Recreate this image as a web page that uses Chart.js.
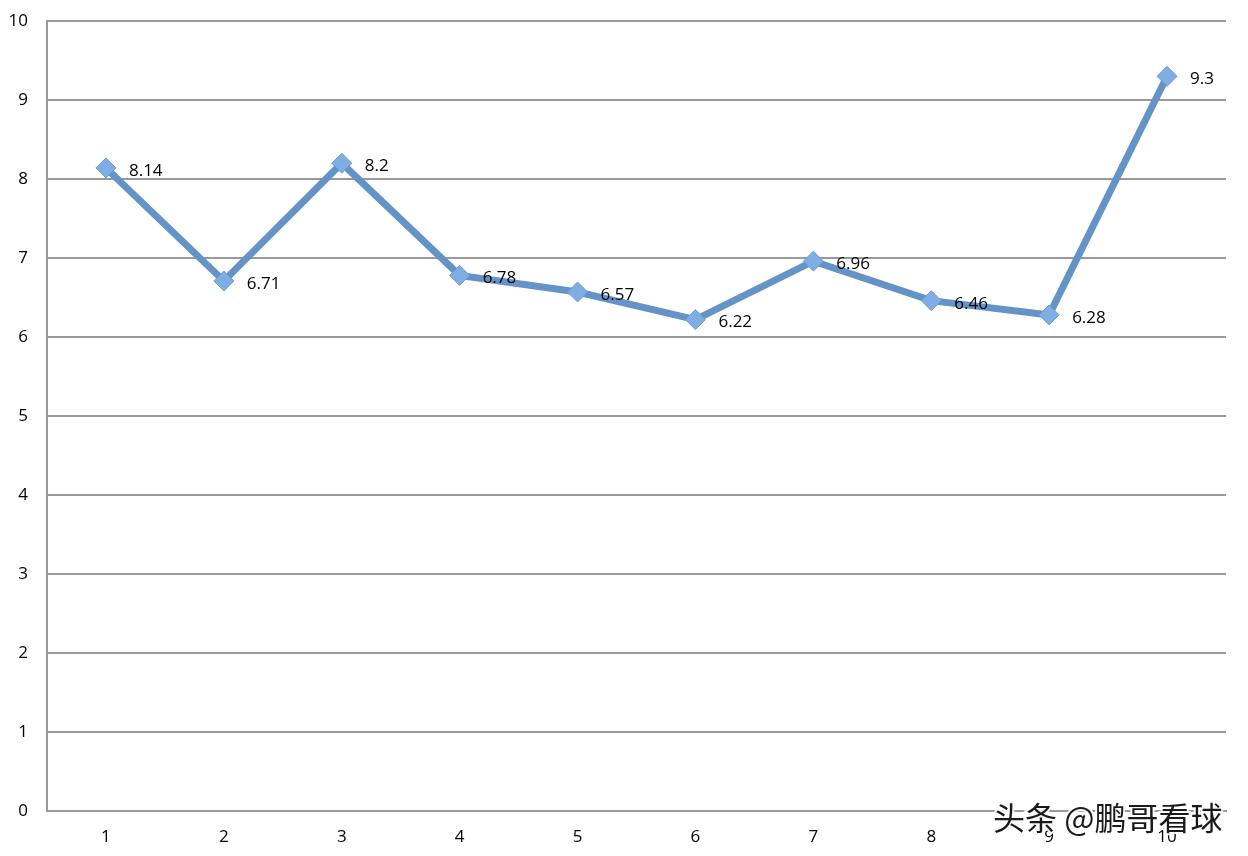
<!DOCTYPE html>
<html>
<head>
<meta charset="utf-8">
<script src="https://cdn.jsdelivr.net/npm/chart.js@4"></script>
<style>
  body { margin: 0; background: #fff; }
  #wrap { width: 1248px; height: 856px; }
</style>
</head>
<body>
<div id="wrap"><canvas id="lineChart" width="1248" height="856"></canvas></div>
<script>
const labels = ['1', '2', '3', '4', '5', '6', '7', '8', '9', '10'];
const values = [8.14, 6.71, 8.2, 6.78, 6.57, 6.22, 6.96, 6.46, 6.28, 9.3];
const watermark = '头条 @鹏哥看球';

// draws the value next to each point
const valueLabels = {
    id: 'valueLabels',
    afterDatasetsDraw(chart) {
        const ctx = chart.ctx;
        const meta = chart.getDatasetMeta(0);
        ctx.save();
        ctx.font = '17px "Open Sans", sans-serif';
        ctx.fillStyle = '#000';
        ctx.textBaseline = 'middle';
        ctx.textAlign = 'left';
        meta.data.forEach((pt, i) => {
            ctx.fillText(String(values[i]), pt.x + 23, pt.y + 3);
        });
        ctx.restore();
    }
};

const watermarkPlugin = {
    id: 'watermark',
    afterDraw(chart) {
        const ctx = chart.ctx;
        ctx.save();
        ctx.font = '32px "Noto Sans CJK SC", sans-serif';
        ctx.textBaseline = 'middle';
        ctx.textAlign = 'left';
        ctx.lineWidth = 4;
        ctx.strokeStyle = 'rgba(255,255,255,0.9)';
        ctx.strokeText(watermark, 993, 818);
        ctx.fillStyle = '#1a1a1a';
        ctx.fillText(watermark, 993, 818);
        ctx.restore();
    }
};

document.addEventListener('DOMContentLoaded', function() {
    const ctx = document.getElementById('lineChart').getContext('2d');

    new Chart(ctx, {
        type: 'line',
        data: {
            labels: labels,
            datasets: [{
                data: values,
                borderColor: '#6393c7',
                borderWidth: 7,
                fill: false,
                tension: 0,
                pointStyle: 'rectRot',
                pointRadius: 10,
                pointBackgroundColor: '#7eaee3',
                pointBorderColor: '#6a9ad0',
                pointBorderWidth: 1
            }]
        },
        options: {
            responsive: false,
            animation: false,
            layout: { padding: { top: 21, right: 22, left: 0, bottom: 0 } },
            plugins: {
                legend: { display: false },
                tooltip: { enabled: false }
            },
            scales: {
                x: {
                    offset: true,
                    grid: { display: false, drawTicks: false },
                    border: { display: true, color: '#999', width: 2 },
                    ticks: {
                        color: '#000',
                        padding: 16,
                        font: { family: '"Open Sans", sans-serif', size: 17 }
                    },
                    afterFit(scale) {
                        scale.height = 45;
                        scale.paddingLeft = 0;
                        scale.paddingRight = 0;
                    }
                },
                y: {
                    min: 0,
                    max: 10,
                    grid: { color: '#999', lineWidth: 2, drawTicks: false },
                    border: { display: true, color: '#999', width: 2 },
                    ticks: {
                        stepSize: 1,
                        color: '#000',
                        padding: 19,
                        font: { family: '"Open Sans", sans-serif', size: 17 }
                    },
                    afterFit(scale) {
                        scale.width = 47;
                        scale.paddingTop = 0;
                        scale.paddingBottom = 0;
                    }
                }
            }
        },
        plugins: [valueLabels, watermarkPlugin]
    });
});
</script>
</body>
</html>
